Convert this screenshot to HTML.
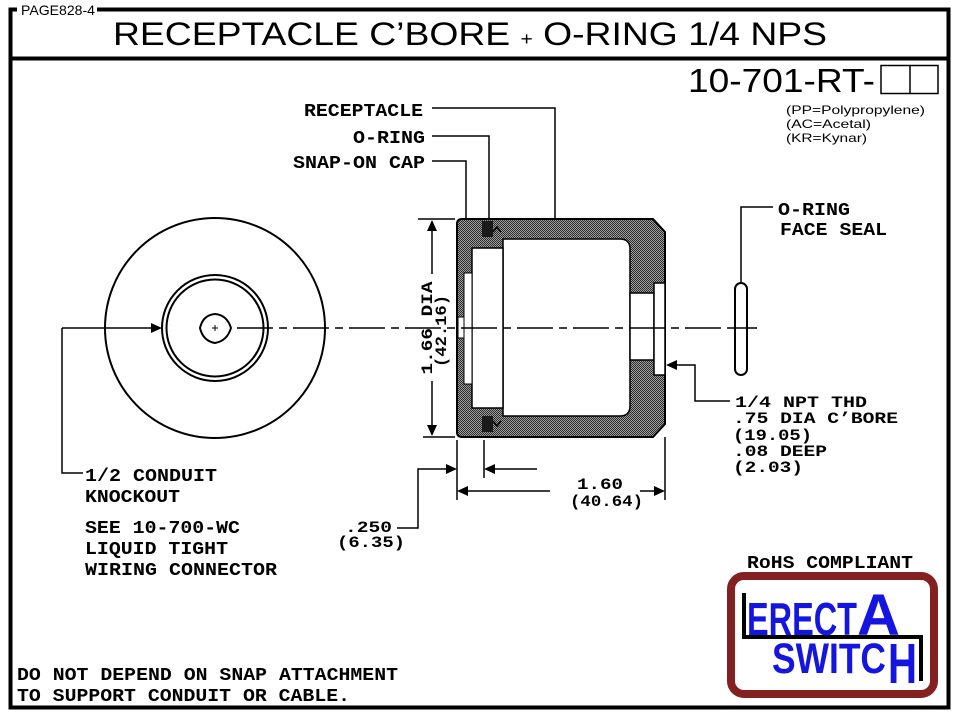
<!DOCTYPE html>
<html>
<head>
<meta charset="utf-8">
<style>
html,body{margin:0;padding:0;background:#fff;}
svg{display:block;}
.m{font-family:"Liberation Mono","DejaVu Sans Mono",monospace;font-weight:bold;font-size:18px;fill:#000;}
.s{font-family:"Liberation Mono","DejaVu Sans Mono",monospace;font-weight:bold;font-size:16px;fill:#000;}
.a{font-family:"Liberation Sans",Arial,sans-serif;fill:#000;}
.lg{font-family:"Liberation Sans",Arial,sans-serif;font-weight:bold;fill:#1515e0;}
</style>
</head>
<body>
<svg width="960" height="720" viewBox="0 0 960 720" xmlns="http://www.w3.org/2000/svg">
<defs>
<pattern id="h" width="2" height="2" patternUnits="userSpaceOnUse">
<rect width="2" height="2" fill="#a0a0a0"/>
<rect x="0" y="0" width="1" height="1" fill="#2a2a2a"/>
<rect x="1" y="1" width="1" height="1" fill="#2a2a2a"/>
</pattern>
</defs>
<rect width="960" height="720" fill="#fff"/>

<!-- frame -->
<rect x="10.5" y="9.5" width="938" height="698" fill="none" stroke="#000" stroke-width="4"/>
<line x1="10.5" y1="58.5" x2="948.5" y2="58.5" stroke="#000" stroke-width="4"/>
<rect x="17" y="0" width="80" height="17" fill="#fff"/>
<text class="a" x="21" y="15" font-size="14" textLength="74" lengthAdjust="spacingAndGlyphs">PAGE828-4</text>

<!-- title -->
<text class="a" x="113" y="45" font-size="32" textLength="714" lengthAdjust="spacingAndGlyphs">RECEPTACLE C’BORE <tspan font-size="18">+</tspan> O-RING 1/4 NPS</text>

<!-- part number -->
<text class="a" x="688" y="92" font-size="33" textLength="187" lengthAdjust="spacingAndGlyphs">10-701-RT-</text>
<rect x="881" y="65.5" width="57" height="28" fill="none" stroke="#000" stroke-width="1.5"/>
<line x1="910" y1="65.5" x2="910" y2="93.5" stroke="#000" stroke-width="1.5"/>
<text class="a" x="786" y="114" font-size="12" textLength="139" lengthAdjust="spacingAndGlyphs">(PP=Polypropylene)</text>
<text class="a" x="786" y="128" font-size="12" textLength="85" lengthAdjust="spacingAndGlyphs">(AC=Acetal)</text>
<text class="a" x="786" y="142" font-size="12" textLength="81" lengthAdjust="spacingAndGlyphs">(KR=Kynar)</text>

<!-- top labels -->
<text class="m" x="304" y="116" textLength="119" lengthAdjust="spacingAndGlyphs">RECEPTACLE</text>
<text class="m" x="353" y="143" textLength="72" lengthAdjust="spacingAndGlyphs">O-RING</text>
<text class="m" x="293" y="168" textLength="132" lengthAdjust="spacingAndGlyphs">SNAP-ON CAP</text>
<g fill="none" stroke="#000" stroke-width="1.5">
<polyline points="432,108 555,108 555,219"/>
<polyline points="432,136 489,136 489,221"/>
<polyline points="432,161 466,161 466,219"/>
</g>

<!-- left circles -->
<g fill="none" stroke="#000" stroke-width="2">
<circle cx="215" cy="328" r="110"/>
<circle cx="215" cy="328" r="53"/>
<circle cx="215" cy="328" r="48.5"/>
<path d="M200,328 Q203,315 215,314 Q227,315 231,328 Q227,341 215,343 Q203,341 200,328 Z"/>
</g>
<g stroke="#000" stroke-width="1">
<line x1="212" y1="328" x2="218" y2="328"/>
<line x1="215" y1="325" x2="215" y2="331"/>
</g>
<!-- conduit leader -->
<polyline points="62,328 152,328" fill="none" stroke="#000" stroke-width="1.5"/>
<polyline points="62,328 62,473 83,473" fill="none" stroke="#000" stroke-width="1.5"/>
<polygon points="162,328 151,323 151,333" fill="#000"/>

<!-- left texts -->
<text class="m" x="85" y="481" textLength="132" lengthAdjust="spacingAndGlyphs">1/2 CONDUIT</text>
<text class="m" x="85" y="502" textLength="95" lengthAdjust="spacingAndGlyphs">KNOCKOUT</text>
<text class="m" x="85" y="533" textLength="155" lengthAdjust="spacingAndGlyphs">SEE 10-700-WC</text>
<text class="m" x="85" y="554" textLength="143" lengthAdjust="spacingAndGlyphs">LIQUID TIGHT</text>
<text class="m" x="85" y="575" textLength="192" lengthAdjust="spacingAndGlyphs">WIRING CONNECTOR</text>
<text class="m" x="17" y="680" textLength="381" lengthAdjust="spacingAndGlyphs">DO NOT DEPEND ON SNAP ATTACHMENT</text>
<text class="m" x="17" y="701" textLength="333" lengthAdjust="spacingAndGlyphs">TO SUPPORT CONDUIT OR CABLE.</text>

<!-- receptacle body -->
<path d="M457,224 Q457,219 462,219 L653,219 L665,232 L665,424 L653,437 L462,437 Q457,437 457,432 Z" fill="url(#h)" stroke="#000" stroke-width="2"/>
<g stroke="#000" stroke-width="1.5" fill="#fff">
<path d="M503,239 L620,239 Q630,239 630,249 L630,406 Q630,416 620,416 L503,416 Z"/>
<rect x="472" y="248" width="31" height="160"/>
<rect x="630" y="293" width="24" height="67"/>
<rect x="654" y="283" width="11" height="92"/>
<rect x="464" y="273" width="8" height="111" stroke-width="1"/>
<rect x="458" y="317" width="6" height="21" stroke-width="1"/>
</g>
<rect x="482" y="221" width="11" height="16" fill="#1a1a1a"/>
<rect x="482" y="416" width="11" height="16" fill="#1a1a1a"/>
<path d="M493,232 L497,227 L501,232" fill="none" stroke="#000" stroke-width="1.5"/>
<path d="M493,421 L497,426 L501,421" fill="none" stroke="#000" stroke-width="1.5"/>

<!-- centerline -->
<line x1="237" y1="328" x2="757" y2="328" stroke="#000" stroke-width="1.5" stroke-dasharray="36,6,8,6"/>

<!-- 1.66 DIA dimension -->
<g stroke="#000" stroke-width="1.5" fill="none">
<line x1="418" y1="219" x2="455" y2="219"/>
<line x1="423" y1="437" x2="455" y2="437"/>
<line x1="432" y1="228" x2="432" y2="274"/>
<line x1="432" y1="381" x2="432" y2="428"/>
</g>
<polygon points="432,220 427,231 437,231" fill="#000"/>
<polygon points="432,436 427,425 437,425" fill="#000"/>
<text class="s" transform="translate(432,328) rotate(-90)" text-anchor="middle" textLength="93" lengthAdjust="spacingAndGlyphs">1.66 DIA</text>
<text class="s" transform="translate(446,331) rotate(-90)" text-anchor="middle" textLength="72" lengthAdjust="spacingAndGlyphs">(42.16)</text>

<!-- bottom dims -->
<g stroke="#000" stroke-width="1.5" fill="none">
<line x1="457" y1="440" x2="457" y2="500"/>
<line x1="484" y1="440" x2="484" y2="478"/>
<line x1="665" y1="437" x2="665" y2="500"/>
<polyline points="397,528 418,528 418,469 447,469"/>
<line x1="494" y1="469" x2="537" y2="469"/>
<line x1="467" y1="491" x2="550" y2="491"/>
<line x1="640" y1="491" x2="655" y2="491"/>
</g>
<polygon points="457,469 446,464 446,474" fill="#000"/>
<polygon points="484,469 495,464 495,474" fill="#000"/>
<polygon points="457,491 468,486 468,496" fill="#000"/>
<polygon points="665,491 654,486 654,496" fill="#000"/>
<text class="s" x="577" y="489" textLength="46" lengthAdjust="spacingAndGlyphs">1.60</text>
<text class="s" x="570" y="506" textLength="73" lengthAdjust="spacingAndGlyphs">(40.64)</text>
<text class="s" x="345" y="532" textLength="47" lengthAdjust="spacingAndGlyphs">.250</text>
<text class="s" x="337" y="547" textLength="68" lengthAdjust="spacingAndGlyphs">(6.35)</text>

<!-- O-ring face seal -->
<rect x="735" y="283" width="12" height="92" rx="6" ry="6" fill="#fff" stroke="#000" stroke-width="2"/>
<line x1="735" y1="328" x2="747" y2="328" stroke="#000" stroke-width="1.5"/>
<polyline points="741,283 741,207 773,207" fill="none" stroke="#000" stroke-width="1.5"/>
<text class="m" x="778" y="215" textLength="72" lengthAdjust="spacingAndGlyphs">O-RING</text>
<text class="m" x="780" y="235" textLength="107" lengthAdjust="spacingAndGlyphs">FACE SEAL</text>

<!-- NPT leader -->
<polyline points="676,365 695,365 695,401 730,401" fill="none" stroke="#000" stroke-width="1.5"/>
<polygon points="666,365 677,360 677,370" fill="#000"/>
<text class="s" x="735" y="407" textLength="132" lengthAdjust="spacingAndGlyphs">1/4 NPT THD</text>
<text class="s" x="733" y="423" textLength="165" lengthAdjust="spacingAndGlyphs">.75 DIA C’BORE</text>
<text class="s" x="733" y="440" textLength="79" lengthAdjust="spacingAndGlyphs">(19.05)</text>
<text class="s" x="733" y="456" textLength="94" lengthAdjust="spacingAndGlyphs">.08 DEEP</text>
<text class="s" x="733" y="472" textLength="70" lengthAdjust="spacingAndGlyphs">(2.03)</text>

<!-- RoHS + logo -->
<text class="m" x="747" y="568" font-size="17" textLength="166" lengthAdjust="spacingAndGlyphs">RoHS COMPLIANT</text>
<rect x="731" y="576" width="203" height="118" rx="13" ry="13" fill="#fff" stroke="#84201f" stroke-width="8"/>
<rect x="742" y="593" width="4" height="46" fill="#000"/>
<rect x="742" y="635" width="181" height="4" fill="#000"/>
<rect x="919" y="635" width="4" height="46" fill="#000"/>
<text class="lg" x="747" y="635" font-size="46" textLength="110" lengthAdjust="spacingAndGlyphs">ERECT</text>
<text class="lg" x="857" y="635" font-size="58" textLength="43" lengthAdjust="spacingAndGlyphs">A</text>
<text class="lg" x="772" y="673" font-size="43" textLength="114" lengthAdjust="spacingAndGlyphs">SWITC</text>
<text class="lg" x="888" y="683" font-size="57" textLength="29" lengthAdjust="spacingAndGlyphs">H</text>
</svg>
</body>
</html>
